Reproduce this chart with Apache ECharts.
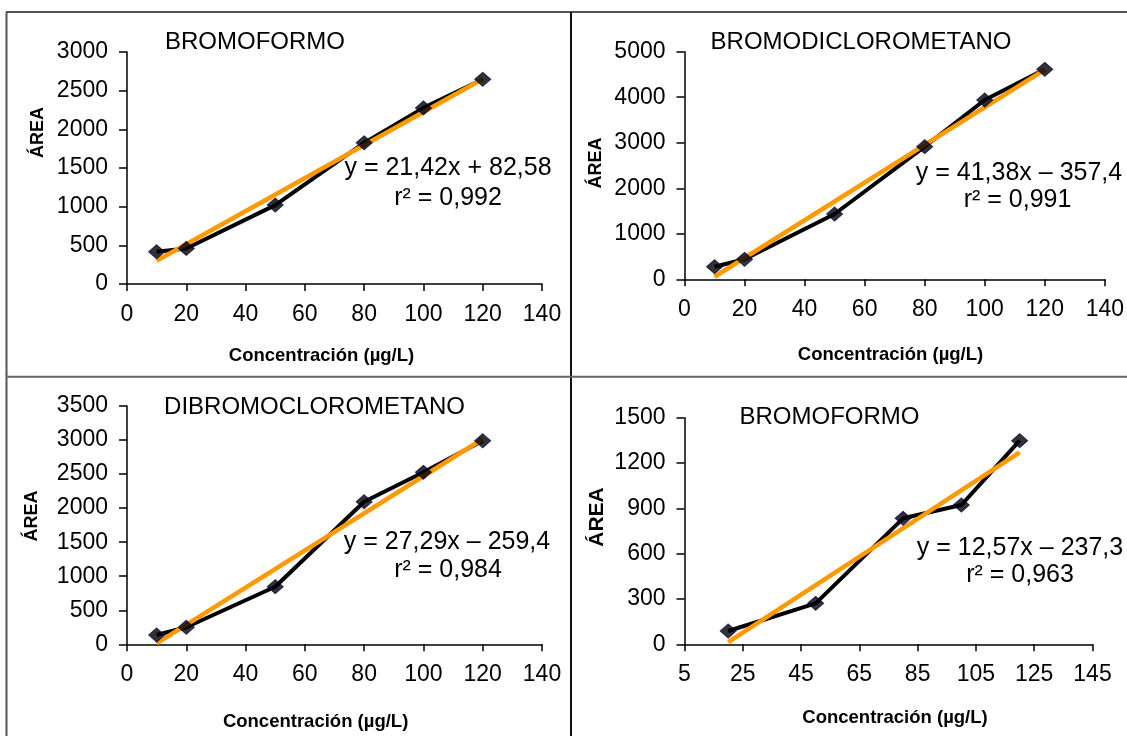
<!DOCTYPE html>
<html>
<head>
<meta charset="utf-8">
<script src="https://cdn.jsdelivr.net/npm/echarts@6/dist/echarts.min.js"></script>
<style>
html,body{margin:0;padding:0;background:#fff;}
#c{width:1127px;height:736px;}
</style>
</head>
<body>
<div id="c"></div>
<script>
// ---- data ----
const concentracion = [10, 20, 50, 80, 100, 120];
const bromoformoA = [417, 460, 1020, 1825, 2277, 2647];
const bromodicloro = [277, 439, 1435, 2913, 3939, 4613];
const dibromocloro = [137, 250, 846, 2094, 2526, 2990];
const concentracionB = [20, 50, 80, 100, 120];
const bromoformoB = [88, 271, 834, 922, 1348];

// trend line end points (x, y)
const trendA = [[10, 300], [120, 2650]];
const trendBDC = [[10, 56], [120, 4608]];
const trendDBC = [[10, 14], [120, 3015]];
const trendB = [[20, 14], [120, 1271]];

const titles = ['BROMOFORMO', 'BROMODICLOROMETANO', 'DIBROMOCLOROMETANO', 'BROMOFORMO'];
const equations = ['y = 21,42x + 82,58', 'y = 41,38x \u2013 357,4', 'y = 27,29x \u2013 259,4', 'y = 12,57x \u2013 237,3'];
const r2 = ['r\u00b2 = 0,992', 'r\u00b2 = 0,991', 'r\u00b2 = 0,984', 'r\u00b2 = 0,963'];
const yName = '\u00c1REA';
const xName = 'Concentraci\u00f3n (\u00b5g/L)';

const yMax = [3000, 5000, 3500, 1500];
const yStep = [500, 1000, 500, 300];
const xMin = [0, 0, 0, 5];
const xMax = [140, 140, 140, 145];
const xStep = [20, 20, 20, 20];

const FONT = '"Liberation Sans", Arial, sans-serif';

const grids = [
  {left: 127, top: 52, width: 415, height: 232},
  {left: 684.5, top: 51.7, width: 422, height: 227.6},
  {left: 127, top: 406, width: 415, height: 238.3},
  {left: 684.5, top: 417.7, width: 408, height: 226.6}
];

function zip(xs, ys) { return xs.map((x, i) => [x, ys[i]]); }
const seriesData = [
  zip(concentracion, bromoformoA),
  zip(concentracion, bromodicloro),
  zip(concentracion, dibromocloro),
  zip(concentracionB, bromoformoB)
];
const trends = [trendA, trendBDC, trendDBC, trendB];
const plain = v => String(v);

const xAxes = [], yAxes = [], series = [];
for (let i = 0; i < 4; i++) {
  xAxes.push({
    type: 'value', gridIndex: i, min: xMin[i], max: xMax[i], interval: xStep[i],
    axisLine: {show: true, onZero: false, lineStyle: {color: '#000', width: 1.5}},
    axisTick: {show: true, inside: false, length: 7, lineStyle: {color: '#000', width: 1.5}},
    axisLabel: {color: '#000', fontSize: 23, fontFamily: FONT, margin: 19, formatter: plain},
    splitLine: {show: false}
  });
  yAxes.push({
    type: 'value', gridIndex: i, min: 0, max: yMax[i], interval: yStep[i],
    axisLine: {show: true, lineStyle: {color: '#000', width: 1.5}},
    axisTick: {show: true, inside: false, length: 8, lineStyle: {color: '#000', width: 1.5}},
    axisLabel: {color: '#000', fontSize: 23, fontFamily: FONT, margin: 19, formatter: plain},
    splitLine: {show: false}
  });
  series.push({
    type: 'line', xAxisIndex: i, yAxisIndex: i, data: seriesData[i],
    showSymbol: false, lineStyle: {color: '#000', width: 4}, silent: true, z: 2
  });
  series.push({
    type: 'line', xAxisIndex: i, yAxisIndex: i, data: trends[i],
    showSymbol: false, lineStyle: {color: '#FF9900', width: 4.5}, silent: true, z: 3
  });
  series.push({
    type: 'scatter', xAxisIndex: i, yAxisIndex: i, data: seriesData[i],
    symbol: 'diamond', symbolSize: [16, 14],
    itemStyle: {color: '#000', borderColor: '#0a0a50', borderWidth: 1}, z: 4
  });
}

function txt(x, y, text, size, bold, rot) {
  return {
    type: 'text', x: x, y: y, rotation: rot || 0, silent: true,
    style: {text: text, fill: '#000', font: (bold ? 'bold ' : '') + size + 'px ' + FONT,
            align: 'center', verticalAlign: 'middle'}
  };
}

const titlePos = [[255, 42], [861, 42], [314.5, 407], [829.5, 417]];
const eqPos = [[448, 168.3], [1019, 173.3], [447, 541.7], [1020, 548.3]];
const r2Pos = [[448, 198.3], [1017.5, 200], [448, 570], [1020, 575]];
const yNamePos = [[38, 132.5], [596, 163], [32, 516], [597.5, 517]];
const yNameSize = [18, 18, 18, 21];
const xNamePos = [[321.5, 356], [890.5, 355], [315.6, 721.7], [895, 718.3]];

const graphics = [
  {type: 'line', shape: {x1: 6, y1: 12, x2: 1127, y2: 12}, style: {stroke: '#555', lineWidth: 2}, silent: true},
  {type: 'line', shape: {x1: 6.5, y1: 12, x2: 6.5, y2: 736}, style: {stroke: '#555', lineWidth: 2}, silent: true},
  {type: 'line', shape: {x1: 571, y1: 12, x2: 571, y2: 736}, style: {stroke: '#111', lineWidth: 2}, silent: true},
  {type: 'line', shape: {x1: 6, y1: 376.7, x2: 1127, y2: 376.7}, style: {stroke: '#666', lineWidth: 2}, silent: true}
];
for (let i = 0; i < 4; i++) {
  graphics.push(txt(titlePos[i][0], titlePos[i][1], titles[i], 24, false));
  graphics.push(txt(eqPos[i][0], eqPos[i][1], equations[i], 25, false));
  graphics.push(txt(r2Pos[i][0], r2Pos[i][1], r2[i], 25, false));
  graphics.push(txt(yNamePos[i][0], yNamePos[i][1], yName, yNameSize[i], true, Math.PI / 2));
  graphics.push(txt(xNamePos[i][0], xNamePos[i][1], xName, 18.5, true));
}

const chart = echarts.init(document.getElementById('c'), null, {renderer: 'canvas'});
chart.setOption({
  backgroundColor: '#fff',
  animation: false,
  grid: grids,
  xAxis: xAxes,
  yAxis: yAxes,
  series: series,
  graphic: graphics
});
</script>
</body>
</html>
